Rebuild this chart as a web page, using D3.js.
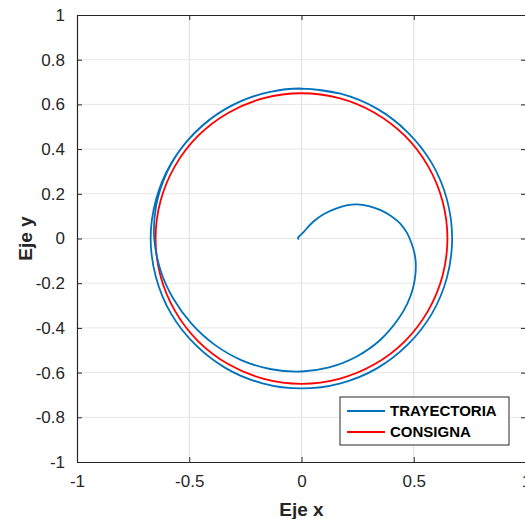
<!DOCTYPE html>
<html>
<head>
<meta charset="utf-8">
<script src="https://cdn.jsdelivr.net/npm/d3@7"></script>
<style>
  body { margin: 0; background: #fff; }
  svg { display: block; font-family: "Liberation Sans", Arial, sans-serif; }
</style>
</head>
<body>
<div class="chart"></div>
<script>
// tick labels
const X_TICKS = [-1, -0.5, 0, 0.5, 1];
const Y_TICKS = [-1, -0.8, -0.6, -0.4, -0.2, 0, 0.2, 0.4, 0.6, 0.8, 1];
const LEGEND = ['TRAYECTORIA', 'CONSIGNA'];

// TRAYECTORIA: spiral leaving the origin, then going round the circle
const TRAYECTORIA = [
  [-0.012, -0.004], [-0.016, 0.002], [-0.008, 0.012], [0.01, 0.03], [0.052, 0.075],
  [0.1, 0.11], [0.156, 0.135], [0.2, 0.148], [0.248, 0.153], [0.3, 0.145],
  [0.35, 0.128], [0.4, 0.1], [0.439, 0.068], [0.47, 0.025], [0.49, -0.021],
  [0.503, -0.065], [0.509, -0.11], [0.507, -0.165], [0.496, -0.225], [0.472, -0.29],
  [0.435, -0.355], [0.353, -0.452], [0.246, -0.528], [0.123, -0.577], [0, -0.595],
  [-0.135, -0.585], [-0.266, -0.545], [-0.386, -0.476], [-0.489, -0.382], [-0.572, -0.267],
  [-0.627, -0.145], [-0.656, 0], [-0.647, 0.149], [-0.601, 0.293], [-0.521, 0.422],
  [-0.413, 0.529], [-0.284, 0.608], [-0.14, 0.656], [0, 0.671],
  [0.174, 0.648], [0.336, 0.581], [0.474, 0.474], [0.581, 0.336], [0.648, 0.174],
  [0.671, 0], [0.648, -0.174], [0.581, -0.336], [0.474, -0.474], [0.336, -0.581],
  [0.174, -0.648], [0, -0.671], [-0.174, -0.648], [-0.336, -0.581], [-0.474, -0.474],
  [-0.581, -0.336], [-0.648, -0.174], [-0.672, 0], [-0.648, 0.174], [-0.581, 0.336],
  [-0.474, 0.474], [-0.336, 0.581], [-0.174, 0.648], [0, 0.671], [0.174, 0.648]
];

// CONSIGNA: reference circle
const CONSIGNA = [
  [0.65, 0], [0.628, 0.168], [0.563, 0.325], [0.46, 0.46], [0.325, 0.563], [0.168, 0.628],
  [0, 0.65], [-0.168, 0.628], [-0.325, 0.563], [-0.46, 0.46], [-0.563, 0.325], [-0.628, 0.168],
  [-0.65, 0], [-0.628, -0.168], [-0.563, -0.325], [-0.46, -0.46], [-0.325, -0.563], [-0.168, -0.628],
  [0, -0.65], [0.168, -0.628], [0.325, -0.563], [0.46, -0.46], [0.563, -0.325], [0.628, -0.168]
];

const COLORS = {TRAYECTORIA: '#0072BD', CONSIGNA: '#FF0000'};

var W = 525, H = 519;
var svg = d3.select('.chart').append('svg')
  .attr('width', W).attr('height', H);

var x = d3.scaleLinear().domain([-1, 1]).range([77, 526]);
var y = d3.scaleLinear().domain([-1, 1]).range([462, 15]);

// grid
svg.append('g').selectAll('line')
  .data(X_TICKS.slice(1, -1)).enter().append('line')
  .attr('x1', d => x(d)).attr('x2', d => x(d))
  .attr('y1', y(1)).attr('y2', y(-1))
  .attr('stroke', '#dfdfdf').attr('stroke-width', 1);
svg.append('g').selectAll('line')
  .data(Y_TICKS.slice(1, -1)).enter().append('line')
  .attr('x1', x(-1)).attr('x2', x(1))
  .attr('y1', d => y(d)).attr('y2', d => y(d))
  .attr('stroke', '#e6e6e6').attr('stroke-width', 1);

// data lines
var line = d3.line().x(d => x(d[0])).y(d => y(d[1]));

svg.append('path')
  .datum(CONSIGNA)
  .attr('d', line.curve(d3.curveCatmullRomClosed.alpha(0.5)))
  .attr('fill', 'none').attr('stroke', COLORS.CONSIGNA).attr('stroke-width', 1.8);

svg.append('path')
  .datum(TRAYECTORIA)
  .attr('d', line.curve(d3.curveCatmullRom.alpha(0.5)))
  .attr('fill', 'none').attr('stroke', COLORS.TRAYECTORIA).attr('stroke-width', 1.8);

// axes, MATLAB style: ticks inside, box on
function styleAxis(g) {
  g.select('.domain').attr('stroke', '#262626').attr('stroke-width', 1.2);
  g.selectAll('.tick line').attr('stroke', '#262626');
  g.selectAll('.tick text').attr('fill', '#262626')
    .style('font-size', '17px').style('font-family', '"Liberation Sans", Arial, sans-serif');
}

var fmt = d => String(d);

svg.append('g')
  .attr('transform', 'translate(0,' + y(-1) + ')')
  .call(d3.axisBottom(x).tickValues(X_TICKS).tickFormat(fmt).tickSizeInner(-5).tickSizeOuter(0).tickPadding(13))
  .call(styleAxis);
svg.append('g')
  .attr('transform', 'translate(0,' + y(1) + ')')
  .call(d3.axisTop(x).tickValues(X_TICKS).tickFormat('').tickSizeInner(-5).tickSizeOuter(0))
  .call(styleAxis);
svg.append('g')
  .attr('transform', 'translate(' + x(-1) + ',0)')
  .call(d3.axisLeft(y).tickValues(Y_TICKS).tickFormat(fmt).tickSizeInner(-5).tickSizeOuter(0).tickPadding(12))
  .call(styleAxis);
svg.append('g')
  .attr('transform', 'translate(' + x(1) + ',0)')
  .call(d3.axisRight(y).tickValues(Y_TICKS).tickFormat('').tickSizeInner(-5).tickSizeOuter(0))
  .call(styleAxis);

// axis titles
svg.append('text')
  .attr('x', x(0)).attr('y', 516)
  .attr('text-anchor', 'middle')
  .style('font-size', '19px').style('font-weight', 'bold').attr('fill', '#262626')
  .text('Eje x');
svg.append('text')
  .attr('transform', 'translate(32,' + y(0) + ') rotate(-90)')
  .attr('text-anchor', 'middle')
  .style('font-size', '19px').style('font-weight', 'bold').attr('fill', '#262626')
  .text('Eje y');

// legend
var lg = svg.append('g').attr('transform', 'translate(340,397)');
lg.append('rect')
  .attr('width', 169).attr('height', 48)
  .attr('fill', '#fff').attr('stroke', '#262626').attr('stroke-width', 1);
var items = lg.selectAll('g.item')
  .data(LEGEND).enter().append('g').attr('class', 'item')
  .attr('transform', (d, i) => 'translate(0,' + (14 + i * 21) + ')');
items.append('line')
  .attr('x1', 7).attr('x2', 45)
  .attr('stroke', d => COLORS[d]).attr('stroke-width', 1.8);
items.append('text')
  .attr('x', 50).attr('dy', '0.35em')
  .style('font-size', '15px').style('font-weight', 'bold').attr('fill', '#000')
  .text(d => d);
</script>
</body>
</html>
